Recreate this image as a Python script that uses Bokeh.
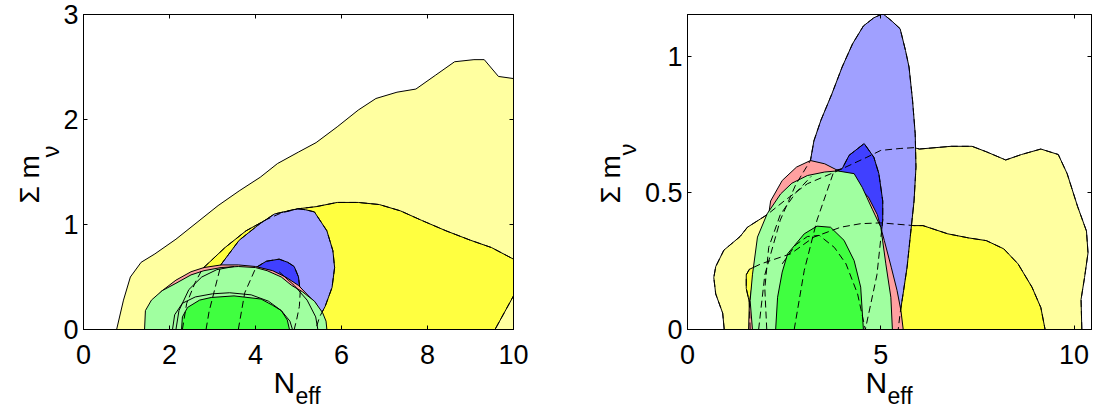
import math
from bokeh.plotting import figure
from bokeh.layouts import row
from bokeh.models import Range1d, LinearAxis, FixedTicker, Label
from bokeh.embed import file_html
from bokeh.resources import INLINE

# ---------------- data: left panel ----------------
L_xticks = [0, 2, 4, 6, 8, 10]
L_yticks = [0, 1, 2, 3]

L_yel95_x = [0.77, 0.93, 1.09, 1.34, 1.66, 2.15, 2.64, 3.13, 3.62, 4.11, 4.51, 5.0, 5.41, 5.90, 6.39, 6.80, 7.29, 7.73, 8.18, 8.63, 9.08, 9.32, 9.65, 10.0, 10.0]
L_yel95_y = [0.0, 0.28, 0.50, 0.64, 0.72, 0.86, 1.02, 1.18, 1.32, 1.45, 1.58, 1.69, 1.78, 1.93, 2.09, 2.20, 2.26, 2.29, 2.42, 2.55, 2.57, 2.57, 2.41, 2.39, 0.0]

L_yel68_x = [2.3, 2.4, 2.6, 2.77, 3.29, 3.78, 4.27, 4.60, 5.0, 5.41, 5.90, 6.39, 6.88, 7.37, 7.86, 8.43, 9.0, 9.49, 10.0, 10.0, 9.57]
L_yel68_y = [0.0, 0.25, 0.45, 0.58, 0.78, 0.94, 1.05, 1.11, 1.15, 1.17, 1.21, 1.21, 1.19, 1.13, 1.04, 0.94, 0.85, 0.78, 0.67, 0.32, 0.0]

L_blu95_x = [2.85, 2.92, 3.05, 3.2, 3.62, 4.11, 4.44, 4.98, 5.17, 5.37, 5.66, 5.80, 5.84, 5.78, 5.62, 5.49, 5.40]
L_blu95_y = [0.0, 0.17, 0.38, 0.62, 0.85, 1.01, 1.10, 1.15, 1.14, 1.12, 0.94, 0.75, 0.59, 0.40, 0.22, 0.12, 0.0]

L_blu68_x = [3.6, 3.75, 4.01, 4.25, 4.55, 4.75, 4.90, 5.00, 5.04, 5.02, 4.96, 4.9]
L_blu68_y = [0.0, 0.35, 0.59, 0.65, 0.67, 0.64, 0.60, 0.50, 0.36, 0.22, 0.10, 0.0]

L_red95_x = [1.50, 1.55, 1.80, 2.15, 2.50, 2.80, 3.20, 3.60, 4.00, 4.40, 4.70, 5.00, 5.40, 5.60, 5.65]
L_red95_y = [0.0, 0.20, 0.36, 0.47, 0.55, 0.59, 0.615, 0.615, 0.60, 0.56, 0.50, 0.42, 0.25, 0.10, 0.0]

L_grn95_x = [1.42, 1.44, 1.58, 1.83, 2.15, 2.50, 2.80, 3.20, 3.60, 4.00, 4.27, 4.60, 4.84, 5.09, 5.37, 5.56, 5.64, 5.66]
L_grn95_y = [0.0, 0.18, 0.28, 0.37, 0.44, 0.52, 0.56, 0.59, 0.60, 0.59, 0.56, 0.50, 0.42, 0.36, 0.27, 0.16, 0.08, 0.0]

L_grn68_x = [2.28, 2.30, 2.42, 2.70, 2.97, 3.50, 4.13, 4.40, 4.60, 4.74, 4.79]
L_grn68_y = [0.0, 0.12, 0.21, 0.28, 0.305, 0.32, 0.29, 0.23, 0.18, 0.09, 0.0]

L_ln1_x = [2.07, 2.12, 2.30, 2.60, 3.00, 3.40, 3.90, 4.30, 4.60, 4.80, 4.86]
L_ln1_y = [0.0, 0.14, 0.25, 0.31, 0.34, 0.35, 0.33, 0.27, 0.18, 0.08, 0.0]
L_ln2_x = [4.55, 4.90, 5.20, 5.40, 5.45]
L_ln2_y = [0.55, 0.42, 0.28, 0.12, 0.0]
L_ln3_x = [2.15, 2.22, 2.45, 2.75, 3.10, 3.50]
L_ln3_y = [0.0, 0.18, 0.38, 0.50, 0.57, 0.60]

# ---------------- data: right panel ----------------
R_xticks = [0, 5, 10]
R_yticks = [0, 0.5, 1]

R_yel95_x = [0.95, 0.91, 0.73, 0.68, 0.73, 0.94, 1.36, 1.55, 2.06, 2.50, 3.10, 3.88, 4.64, 5.00, 5.50, 5.86, 6.00, 6.82, 7.36, 7.73, 8.23, 8.64, 9.14, 9.59, 9.82, 10.09, 10.32, 10.36, 10.27, 10.18, 10.20]
R_yel95_y = [0.0, 0.06, 0.13, 0.19, 0.23, 0.29, 0.34, 0.374, 0.42, 0.47, 0.533, 0.58, 0.63, 0.655, 0.662, 0.665, 0.66, 0.67, 0.67, 0.65, 0.62, 0.64, 0.66, 0.64, 0.57, 0.45, 0.36, 0.28, 0.19, 0.11, 0.0]

R_yel68_x = [1.62, 1.60, 1.52, 1.52, 1.60, 1.90, 2.67, 3.27, 3.96, 4.48, 5.00, 5.86, 6.09, 6.73, 7.27, 7.73, 8.18, 8.55, 8.91, 9.14, 9.25]
R_yel68_y = [0.0, 0.10, 0.15, 0.20, 0.22, 0.24, 0.277, 0.338, 0.374, 0.387, 0.39, 0.38, 0.38, 0.35, 0.335, 0.325, 0.295, 0.24, 0.155, 0.08, 0.0]

R_blu95_x = [1.84, 2.00, 2.40, 2.80, 3.18, 3.27, 3.45, 3.73, 4.00, 4.27, 4.55, 4.82, 5.05, 5.27, 5.50, 5.64, 5.73, 5.82, 5.89, 5.91, 5.86, 5.77, 5.68, 5.59, 5.50, 5.45]
R_blu95_y = [0.0, 0.20, 0.40, 0.53, 0.618, 0.69, 0.765, 0.86, 0.96, 1.045, 1.11, 1.14, 1.155, 1.13, 1.10, 1.02, 0.96, 0.84, 0.716, 0.594, 0.47, 0.35, 0.228, 0.143, 0.06, 0.0]

R_blu68_x = [2.76, 3.02, 3.35, 3.79, 4.00, 4.18, 4.57, 4.82, 4.95, 5.05, 5.05, 4.90, 4.60]
R_blu68_y = [0.0, 0.216, 0.40, 0.58, 0.588, 0.637, 0.68, 0.63, 0.57, 0.47, 0.40, 0.20, 0.0]

R_red95_x = [1.58, 1.60, 1.72, 1.90, 2.10, 2.15, 2.45, 2.82, 3.18, 3.55, 3.91, 4.30, 4.68, 4.91, 5.09, 5.27, 5.42, 5.52, 5.58]
R_red95_y = [0.0, 0.10, 0.20, 0.30, 0.42, 0.47, 0.545, 0.594, 0.618, 0.606, 0.58, 0.54, 0.484, 0.42, 0.326, 0.228, 0.143, 0.07, 0.0]

R_grn95_x = [1.68, 1.62, 1.68, 1.81, 2.06, 2.41, 2.70, 3.10, 3.55, 3.88, 4.31, 4.52, 4.78, 5.00, 5.13, 5.26, 5.30]
R_grn95_y = [0.0, 0.106, 0.20, 0.338, 0.423, 0.496, 0.535, 0.563, 0.576, 0.58, 0.57, 0.52, 0.44, 0.374, 0.24, 0.118, 0.0]

R_grn68_x = [2.28, 2.33, 2.45, 2.59, 3.02, 3.35, 3.70, 4.05, 4.31, 4.48, 4.55]
R_grn68_y = [0.0, 0.118, 0.21, 0.277, 0.35, 0.378, 0.374, 0.326, 0.252, 0.155, 0.0]

R_ln1_x = [2.45, 2.80, 3.10, 3.41, 3.80, 4.10, 4.40, 4.60]
R_ln1_y = [0.24, 0.31, 0.34, 0.344, 0.30, 0.24, 0.13, 0.0]
R_ln2_x = [2.05, 2.00, 2.10, 2.40, 2.80, 3.20]
R_ln2_y = [0.0, 0.15, 0.30, 0.42, 0.50, 0.56]

# ---------------- styling ----------------
C_YEL95 = "#FFFFA0"
C_YEL68 = "#FFFF40"
C_BLU95 = "#A0A0FF"
C_BLU68 = "#4040FF"
C_RED95 = "#FFA0A0"
C_GRN95 = "#A0FFA0"
C_GRN68 = "#40FF40"
FONT = "Liberation Sans"
DASH = "7 4"


def make_fig(xmax, ymax, xticks, yticks, overrides, left, right, fw):
    p = figure(frame_width=fw, frame_height=315,
               x_range=Range1d(0, xmax), y_range=Range1d(0, ymax),
               output_backend="svg", toolbar_location=None,
               x_axis_location=None, y_axis_location=None,
               min_border_left=left, min_border_right=right,
               min_border_top=14, min_border_bottom=78)
    p.grid.visible = False
    p.outline_line_color = "black"
    p.outline_line_width = 1
    p.background_fill_color = "white"
    p.border_fill_color = "white"
    for loc in ["below", "left", "above", "right"]:
        ticks = xticks if loc in ("below", "above") else yticks
        ax = LinearAxis(ticker=FixedTicker(ticks=ticks), major_tick_in=4,
                        major_tick_out=0, minor_tick_line_color=None,
                        axis_line_color="black", major_tick_line_color="black")
        if loc in ("below", "left"):
            ax.major_label_text_font = FONT
            ax.major_label_text_font_size = "27px"
            ax.major_label_text_color = "black"
            ax.major_label_standoff = 15 if loc == "below" else 5
            if loc == "left" and overrides:
                ax.major_label_overrides = overrides
        else:
            ax.major_label_text_font_size = "0px"
            ax.major_label_standoff = 0
        p.add_layout(ax, loc)
    return p


def fills(p, groups):
    for xs, ys, col in groups:
        p.patch(xs, ys, fill_color=col, line_color="black", line_width=1)


def lab(p, side, pos, text, size, angle=0.0):
    p.add_layout(Label(x=pos[0], y=pos[1], x_units="canvas", y_units="canvas",
                       text=text, angle=angle, text_font=FONT,
                       text_font_size=size, text_color="black",
                       text_align="left", text_baseline="alphabetic"), side)


def labels(p, sig, nu, n, eff):
    lab(p, "left", sig, "\u03a3 m", "28px", math.pi / 2)
    lab(p, "left", nu, "\u03bd", "24px", math.pi / 2)
    lab(p, "below", n, "N", "30px")
    lab(p, "below", eff, "eff", "23px")


# left panel
p1 = make_fig(10, 3, L_xticks, L_yticks, None, 83, 30, 430)
fills(p1, [(L_yel95_x, L_yel95_y, C_YEL95), (L_yel68_x, L_yel68_y, C_YEL68),
           (L_blu95_x, L_blu95_y, C_BLU95), (L_blu68_x, L_blu68_y, C_BLU68),
           (L_red95_x, L_red95_y, C_RED95), (L_grn95_x, L_grn95_y, C_GRN95),
           (L_grn68_x, L_grn68_y, C_GRN68)])
p1.line(L_ln1_x, L_ln1_y, line_color="black", line_width=1)
p1.line(L_ln2_x, L_ln2_y, line_color="black", line_width=1)
p1.line(L_ln3_x, L_ln3_y, line_color="black", line_width=1)
for xs, ys in [(L_yel68_x, L_yel68_y), (L_blu95_x, L_blu95_y), (L_blu68_x, L_blu68_y)]:
    p1.line(xs, ys, line_color="black", line_width=1, line_dash=DASH)
labels(p1, (29, 203), (50, 157), (273, 382), (295, 395))

# right panel
p2 = make_fig(10.45, 1.152, R_xticks, R_yticks, {0: "0", 0.5: "0.5", 1: "1"}, 144, 6, 404)
fills(p2, [(R_yel95_x, R_yel95_y, C_YEL95), (R_yel68_x, R_yel68_y, C_YEL68),
           (R_blu95_x, R_blu95_y, C_BLU95), (R_blu68_x, R_blu68_y, C_BLU68),
           (R_red95_x, R_red95_y, C_RED95), (R_grn95_x, R_grn95_y, C_GRN95),
           (R_grn68_x, R_grn68_y, C_GRN68)])
for xs, ys in [(R_yel95_x, R_yel95_y), (R_yel68_x, R_yel68_y), (R_blu95_x, R_blu95_y),
               (R_blu68_x, R_blu68_y), (R_ln1_x, R_ln1_y), (R_ln2_x, R_ln2_y)]:
    p2.line(xs, ys, line_color="black", line_width=1, line_dash=DASH)
labels(p2, (67, 203), (84, 155), (322, 382), (344, 395))

layout = row(p1, p2)
open("out.html", "w").write(file_html(layout, INLINE))
